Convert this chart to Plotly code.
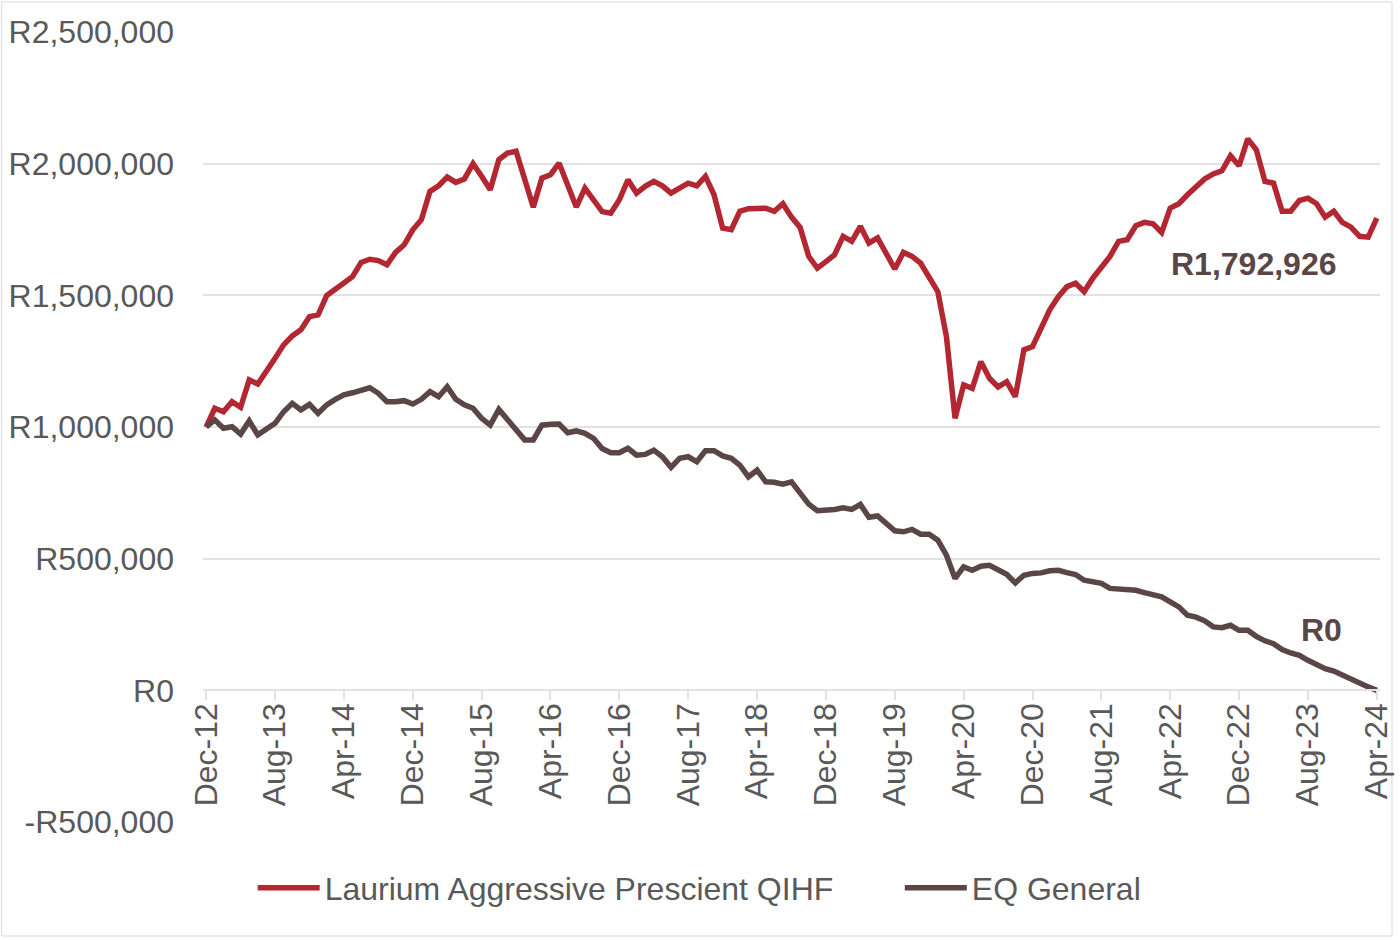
import pandas as pd
import plotly.graph_objects as go

months = list(pd.date_range("2012-12-01", periods=137, freq="MS").strftime("%b-%y"))

laurium = [
    1000000, 1071000, 1058000, 1096000, 1075000, 1179000, 1163000, 1217000, 1261000, 1312000,
    1346000, 1369000, 1419000, 1426000, 1499000, 1523000, 1544000, 1571000, 1625000, 1637000,
    1632000, 1616000, 1663000, 1692000, 1749000, 1787000, 1895000, 1916000, 1949000, 1929000,
    1942000, 2000000, 1952000, 1901000, 2015000, 2040000, 2047000, 1939000, 1835000, 1945000,
    1958000, 2002000, 1920000, 1835000, 1907000, 1863000, 1818000, 1812000, 1863000, 1939000,
    1888000, 1914000, 1933000, 1916000, 1888000, 1907000, 1926000, 1916000, 1952000, 1882000,
    1755000, 1749000, 1819000, 1829000, 1829000, 1831000, 1819000, 1848000, 1797000, 1758000,
    1648000, 1603000, 1628000, 1654000, 1724000, 1705000, 1762000, 1698000, 1718000, 1654000,
    1600000, 1663000, 1648000, 1622000, 1571000, 1514000, 1343000, 1033000, 1160000, 1147000,
    1248000, 1185000, 1152000, 1172000, 1115000, 1293000, 1305000, 1381000, 1445000, 1495000,
    1533000, 1546000, 1514000, 1565000, 1603000, 1648000, 1705000, 1711000, 1764000, 1777000,
    1772000, 1739000, 1831000, 1848000, 1882000, 1910000, 1942000, 1961000, 1973000, 2030000,
    1992000, 2094000, 2053000, 1933000, 1926000, 1819000, 1819000, 1860000, 1869000, 1848000,
    1797000, 1819000, 1777000, 1759000, 1724000, 1721000, 1792926,
]

eq_general = [
    1000000, 1027000, 995000, 1001000, 973000, 1023000, 970000, 995000, 1014000, 1058000,
    1090000, 1065000, 1086000, 1052000, 1084000, 1105000, 1122000, 1130000, 1141000, 1149000,
    1128000, 1096000, 1096000, 1100000, 1087000, 1105000, 1134000, 1115000, 1153000, 1105000,
    1084000, 1071000, 1033000, 1007000, 1067000, 1027000, 991000, 951000, 951000, 1007000,
    1010000, 1011000, 978000, 985000, 976000, 957000, 918000, 902000, 902000, 919000,
    893000, 896000, 912000, 887000, 847000, 881000, 887000, 868000, 910000, 910000,
    890000, 881000, 855000, 811000, 836000, 792000, 790000, 783000, 792000, 750000,
    707000, 682000, 682000, 687000, 693000, 687000, 706000, 657000, 662000, 631000,
    606000, 602000, 611000, 593000, 593000, 570000, 513000, 425000, 469000, 456000,
    471000, 475000, 458000, 441000, 408000, 437000, 444000, 446000, 454000, 456000,
    447000, 440000, 418000, 414000, 406000, 387000, 384000, 378000, 380000, 371000,
    365000, 355000, 336000, 317000, 285000, 278000, 264000, 241000, 238000, 247000,
    228000, 228000, 205000, 188000, 177000, 155000, 142000, 133000, 114000, 95000,
    82000, 73000, 57000, 42000, 28000, 13000, 0,
]

y_tickvals = [-500000, 0, 500000, 1000000, 1500000, 2000000, 2500000]
y_ticktext = ["-R500,000", "R0", "R500,000", "R1,000,000", "R1,500,000", "R2,000,000", "R2,500,000"]
x_tick_labels = months[::8]

end_labels = ["R1,792,926", "R0"]

RED = "#B22731"
DARK = "#5A4547"
TXT = "#595959"
GRID = "#E6E0E1"
FONT = "Liberation Sans, Arial, sans-serif"
FS = 32

fig = go.Figure()
fig.add_trace(go.Scatter(x=list(range(len(months))), y=laurium, mode="lines",
                         name="Laurium Aggressive Prescient QIHF",
                         line=dict(color=RED, width=5.5), legend="legend"))
fig.add_trace(go.Scatter(x=list(range(len(months))), y=eq_general, mode="lines",
                         name="EQ General",
                         line=dict(color=DARK, width=5.5), legend="legend2"))

fig.add_annotation(x=121.7, y=1620000, xref="x", yref="y", text="<b>" + end_labels[0] + "</b>",
                   showarrow=False, font=dict(family=FONT, size=FS, color=DARK))
fig.add_annotation(x=129.6, y=228000, xref="x", yref="y", text="<b>" + end_labels[1] + "</b>",
                   showarrow=False, font=dict(family=FONT, size=FS, color=DARK))

tick_idx = list(range(0, len(months), 8))

legend_common = dict(orientation="h", xanchor="left", y=-0.0835, yanchor="middle",
                     font=dict(family=FONT, size=FS, color=TXT), itemwidth=62,
                     bgcolor="rgba(0,0,0,0)")

fig.update_layout(
    width=1400, height=940,
    margin=dict(l=203, r=20, t=32, b=118, autoexpand=False),
    paper_bgcolor="white", plot_bgcolor="white",
    font=dict(family=FONT, size=FS, color=TXT),
    showlegend=True,
    legend=dict(x=0.0422, **legend_common),
    legend2=dict(x=0.592, **legend_common),
    xaxis=dict(
        range=[-0.37, 136.37],
        tickmode="array", tickvals=tick_idx, ticktext=x_tick_labels,
        tickangle=-90, showgrid=False, zeroline=False,
        showline=True, linecolor=GRID, linewidth=2,
        ticks="outside", ticklen=9, tickcolor=GRID, tickwidth=2,
        anchor="free", position=1/6, automargin=False,
        ticklabelstandoff=-10,
        tickfont=dict(family=FONT, size=FS, color=TXT),
    ),
    yaxis=dict(
        range=[-500000, 2500000],
        tickmode="array", tickvals=y_tickvals, ticktext=y_ticktext,
        showgrid=True, gridcolor=GRID, gridwidth=2,
        zeroline=False, showline=False, ticks="", automargin=False,
        ticklabelstandoff=28,
        tickfont=dict(family=FONT, size=FS, color=TXT),
    ),
)

fig.add_shape(type="rect", xref="paper", yref="paper",
              x0=-0.171, x1=1.0102, y0=-0.1443, y1=1.038,
              line=dict(color="#D9D9D9", width=1), fillcolor="rgba(0,0,0,0)", layer="below")

fig.write_html("out.html", config={"displayModeBar": False},
               post_script="document.body.style.margin='0px';")
